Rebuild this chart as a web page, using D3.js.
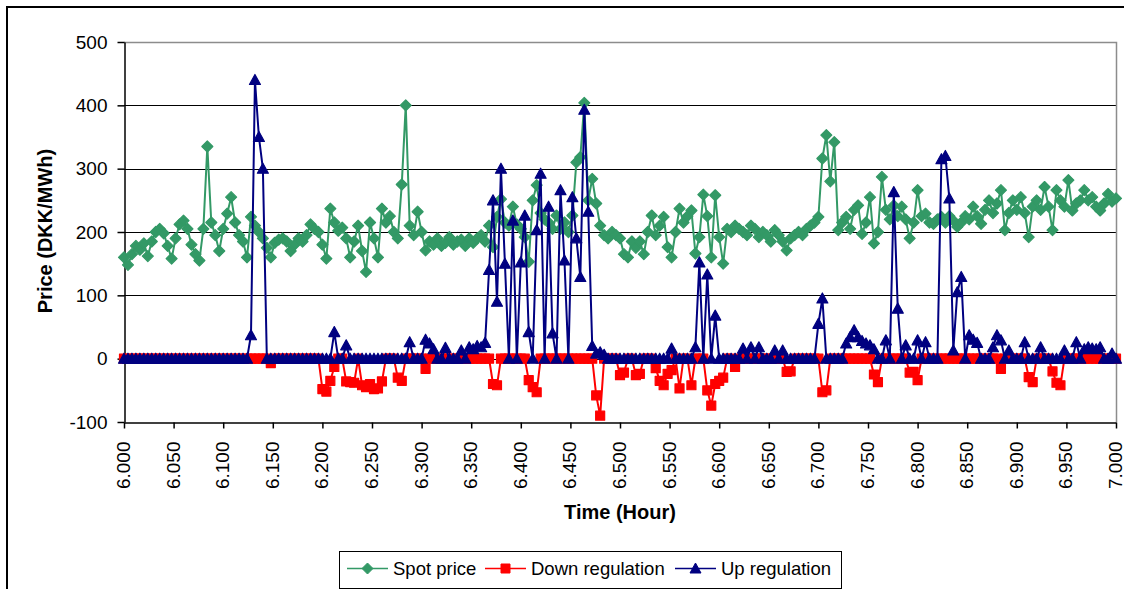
<!DOCTYPE html>
<html>
<head>
<meta charset="utf-8">
<script src="https://cdn.jsdelivr.net/npm/d3@7"></script>
<style>
  body { margin: 0; background: #fff; }
  svg { display: block; font-family: "Liberation Sans", Arial, sans-serif; }
</style>
</head>
<body>
<div id="chart"></div>
<script>
// time axis: hour 6.000 -> 7.000, one sample every 0.004
const tStart = 6.0;
const tStep = 0.004;

const spotPrice = [
  160, 148, 165, 178, 172, 182, 162, 185, 200, 205,
  198, 178, 158, 190, 212, 218, 205, 180, 165, 155,
  205, 335, 215, 195, 170, 205, 229, 255, 215, 195,
  185, 160, 224, 210, 200, 190, 175, 160, 183, 188,
  190, 185, 170, 180, 190, 185, 195, 212, 205, 200,
  180, 158, 237, 215, 202, 207, 190, 160, 185, 210,
  170, 137, 215, 190, 160, 237, 215, 225, 200, 190,
  275, 400, 210, 195, 232, 200, 171, 185, 180, 190,
  178, 183, 192, 180, 185, 188, 178, 190, 183, 190,
  195, 185, 210, 176, 224, 252, 215, 210, 240, 212,
  205, 192, 153, 250, 274, 230, 220, 215, 205, 226,
  205, 215, 200, 226, 310, 318, 404, 250, 284, 245,
  210, 195, 190, 200, 195, 190, 165, 160, 185, 175,
  185, 165, 200, 226, 195, 210, 224, 176, 160, 200,
  237, 215, 225, 234, 166, 192, 259, 225, 160, 258,
  192, 150, 205, 200, 210, 205, 200, 195, 210, 205,
  192, 200, 195, 185, 203, 195, 185, 171, 190, 195,
  200, 195, 205, 210, 215, 224, 316, 353, 280, 342,
  203, 215, 224, 205, 235, 242, 197, 215, 255, 182,
  200, 287, 235, 220, 242, 225, 240, 220, 190, 215,
  266, 225, 229, 215, 213, 220, 224, 215, 225, 218,
  208, 215, 225, 220, 240, 225, 213, 235, 250, 230,
  245, 266, 203, 230, 250, 235, 255, 230, 192, 240,
  250, 235, 271, 240, 203, 266, 250, 240, 282, 234,
  245, 250, 266, 250, 255, 240, 234, 245, 260, 248, 253
];

const downRegulation = [
  0, 0, 0, 0, 0, 0, 0, 0, 0, 0,
  0, 0, 0, 0, 0, 0, 0, 0, 0, 0,
  0, 0, 0, 0, 0, 0, 0, 0, 0, 0,
  0, 0, 0, 0, 0, 0, 0, -7, 0, 0,
  0, 0, 0, 0, 0, 0, 0, 0, 0, 0,
  -48, -52, -35, -13, 0, 0, -36, -37, -38, 0,
  -42, -45, -40, -48, -47, -36, 0, 0, 0, -30,
  -35, 0, 0, 0, 0, 0, -16, 0, 0, 0,
  0, 0, 0, 0, 0, 0, 0, 0, 0, 0,
  0, 0, 0, -40, -42, 0, 0, 0, 0, 0,
  0, 0, -34, -45, -53, 0, 0, 0, 0, 0,
  0, 0, 0, 0, 0, 0, 0, 0, 0, -58,
  -90, 0, 0, 0, 0, -26, -22, 0, 0, -26,
  -24, 0, 0, 0, -15, -35, -42, -24, -18, 0,
  -47, 0, 0, -42, 0, 0, 0, -50, -74, -40,
  -35, -30, 0, 0, -13, 0, 0, 0, 0, 0,
  0, 0, 0, 0, 0, 0, 0, -21, -20, 0,
  0, 0, 0, 0, 0, 0, -53, -50, 0, 0,
  0, 0, 0, 0, 0, 0, 0, 0, 0, -25,
  -37, 0, 0, 0, 0, 0, 0, 0, -22, -21,
  -34, 0, 0, 0, 0, 0, 0, 0, 0, 0,
  0, 0, 0, 0, 0, 0, 0, 0, 0, 0,
  0, -16, 0, 0, 0, 0, 0, 0, -29, -37,
  0, 0, 0, 0, -20, -38, -42, 0, 0, 0,
  0, 0, 0, 0, 0, 0, 0, 0, 0, 0, 0
];

const upRegulation = [
  0, 0, 0, 0, 0, 0, 0, 0, 0, 0,
  0, 0, 0, 0, 0, 0, 0, 0, 0, 0,
  0, 0, 0, 0, 0, 0, 0, 0, 0, 0,
  0, 0, 37, 440, 350, 300, 0, 0, 0, 0,
  0, 0, 0, 0, 0, 0, 0, 0, 0, 0,
  0, 0, 0, 42, 0, 0, 21, 0, 0, 0,
  0, 0, 0, 0, 0, 0, 0, 0, 0, 0,
  0, 0, 26, 0, 0, 0, 30, 24, 15, 0,
  0, 17, 0, 0, 0, 13, 0, 18, 15, 20,
  18, 25, 140, 250, 90, 300, 150, 0, 218, 0,
  152, 226, 42, 0, 203, 292, 0, 240, 40, 0,
  266, 155, 0, 255, 190, 129, 393, 232, 20, 8,
  10, 6, 0, 0, 0, 0, 0, 0, 0, 0,
  0, 0, 0, 0, 0, 0, 0, 0, 16, 0,
  0, 0, 0, 0, 18, 152, 0, 133, 0, 68,
  0, 0, 0, 0, 0, 0, 16, 0, 18, 0,
  18, 0, 0, 0, 13, 0, 13, 0, 0, 0,
  0, 0, 0, 0, 0, 55, 95, 0, 0, 0,
  0, 0, 24, 34, 45, 34, 28, 24, 21, 15,
  0, 0, 29, 0, 263, 79, 0, 21, 0, 0,
  29, 0, 26, 0, 0, 0, 315, 320, 253, 13,
  105, 129, 0, 37, 30, 25, 0, 0, 0, 18,
  37, 29, 0, 13, 0, 0, 0, 26, 0, 0,
  0, 18, 0, 0, 0, 0, 0, 13, 0, 0,
  26, 0, 15, 18, 16, 15, 18, 0, 0, 8, 0
];

const yTicks = [-100, 0, 100, 200, 300, 400, 500];
const xTicks = [6.0, 6.05, 6.1, 6.15, 6.2, 6.25, 6.3, 6.35, 6.4, 6.45, 6.5,
                6.55, 6.6, 6.65, 6.7, 6.75, 6.8, 6.85, 6.9, 6.95, 7.0];

const seriesNames = ["Spot price", "Down regulation", "Up regulation"];

const W = 1124, H = 589;
const plot = { left: 124, right: 1116, top: 42, bottom: 422 };

const svg = d3.select("#chart").append("svg")
    .attr("width", W)
    .attr("height", H);

svg.append("rect")
    .attr("width", W).attr("height", H)
    .attr("fill", "#fff");

// outer chart border (runs past the right and bottom edge)
svg.append("rect")
    .attr("x", 7).attr("y", 7)
    .attr("width", 1140).attr("height", 620)
    .attr("fill", "none")
    .attr("stroke", "#000")
    .attr("stroke-width", 2);

const x = d3.scaleLinear().domain([6, 7]).range([plot.left, plot.right]);
const y = d3.scaleLinear().domain([-100, 500]).range([plot.bottom, plot.top]);

const time = i => tStart + i * tStep;

// gridlines
svg.append("g")
    .selectAll("line")
    .data(yTicks.filter(d => d > -100 && d < 500))
    .enter()
    .append("line")
    .attr("x1", plot.left).attr("x2", plot.right)
    .attr("y1", d => Math.round(y(d)) + 0.5)
    .attr("y2", d => Math.round(y(d)) + 0.5)
    .attr("stroke", "#000")
    .attr("stroke-width", 1);

// plot border top / right
svg.append("path")
    .attr("d", `M${plot.left},${plot.top + 0.5}H${plot.right + 0.5}V${plot.bottom}`)
    .attr("fill", "none")
    .attr("stroke", "#8c8c8c")
    .attr("stroke-width", 1.5);

// axes
const yAxis = svg.append("g")
    .attr("transform", `translate(${plot.left + 0.5},0)`)
    .call(d3.axisLeft(y).tickValues(yTicks).tickSize(7).tickSizeOuter(0).tickPadding(10)
      .tickFormat(d => String(d)));

const xAxis = svg.append("g")
    .attr("transform", `translate(0,${plot.bottom + 0.5})`)
    .call(d3.axisBottom(x).tickValues(xTicks).tickSize(6).tickSizeOuter(0).tickFormat(d3.format(".3f")));

[yAxis, xAxis].forEach(a => {
  a.select(".domain").attr("stroke", "#000").attr("stroke-width", 1.5);
  a.selectAll(".tick line").attr("stroke", "#000").attr("stroke-width", 1.5);
  a.selectAll("text")
      .attr("fill", "#000")
      .style("font-size", "19px")
      .style("font-family", "'Liberation Sans', Arial, sans-serif");
});

xAxis.selectAll(".tick text")
    .attr("x", 0).attr("y", 0).attr("dy", null)
    .attr("text-anchor", "end")
    .attr("transform", "translate(5.5,19) rotate(-90)");

// axis titles
svg.append("text")
    .attr("transform", "translate(52,231) rotate(-90)")
    .attr("text-anchor", "middle")
    .style("font-size", "20px")
    .style("font-weight", "bold")
    .text("Price (DKK/MWh)");

svg.append("text")
    .attr("x", (plot.left + plot.right) / 2)
    .attr("y", 519)
    .attr("text-anchor", "middle")
    .style("font-size", "20px")
    .style("font-weight", "bold")
    .text("Time (Hour)");

// marker shapes
const diamond = "M0,-5.5L5.5,0L0,5.5L-5.5,0Z";
const square = "M-4.5,-4.5h9v9h-9Z";
const triangle = "M0,-5.5L5.5,4.5L-5.5,4.5Z";

const series = [
  { name: seriesNames[0], values: spotPrice, color: "#339966", marker: diamond },
  { name: seriesNames[1], values: downRegulation, color: "#ff0000", marker: square },
  { name: seriesNames[2], values: upRegulation, color: "#000080", marker: triangle }
];

const line = d3.line()
    .x((d, i) => x(time(i)))
    .y(d => y(d));

series.forEach(s => {
  const g = svg.append("g");
  g.append("path")
      .datum(s.values)
      .attr("d", line)
      .attr("fill", "none")
      .attr("stroke", s.color)
      .attr("stroke-width", 2)
      .attr("stroke-linejoin", "round");

  g.selectAll(".marker")
      .data(s.values)
      .enter()
      .append("path")
      .attr("class", "marker")
      .attr("d", s.marker)
      .attr("transform", (d, i) => `translate(${x(time(i))},${y(d)})`)
      .attr("fill", s.color)
      .attr("stroke", s.color)
      .attr("stroke-width", 1.2)
      .attr("stroke-linejoin", "round");
});

// legend
const legend = svg.append("g");
legend.append("rect")
    .attr("x", 339.5).attr("y", 551.5)
    .attr("width", 502).attr("height", 37)
    .attr("fill", "#fff")
    .attr("stroke", "#000")
    .attr("stroke-width", 1);

const legendX = [347, 485, 675];
series.forEach((s, k) => {
  const lg = legend.append("g").attr("transform", `translate(${legendX[k]},568.5)`);
  lg.append("line")
      .attr("x1", 0).attr("x2", 41)
      .attr("stroke", s.color)
      .attr("stroke-width", 1.6);
  lg.append("path")
      .attr("d", s.marker)
      .attr("transform", "translate(20.5,0)")
      .attr("fill", s.color)
      .attr("stroke", s.color);
  lg.append("text")
      .attr("x", 46)
      .attr("y", 6.5)
      .style("font-size", "18.5px")
      .text(s.name);
});
</script>
</body>
</html>
